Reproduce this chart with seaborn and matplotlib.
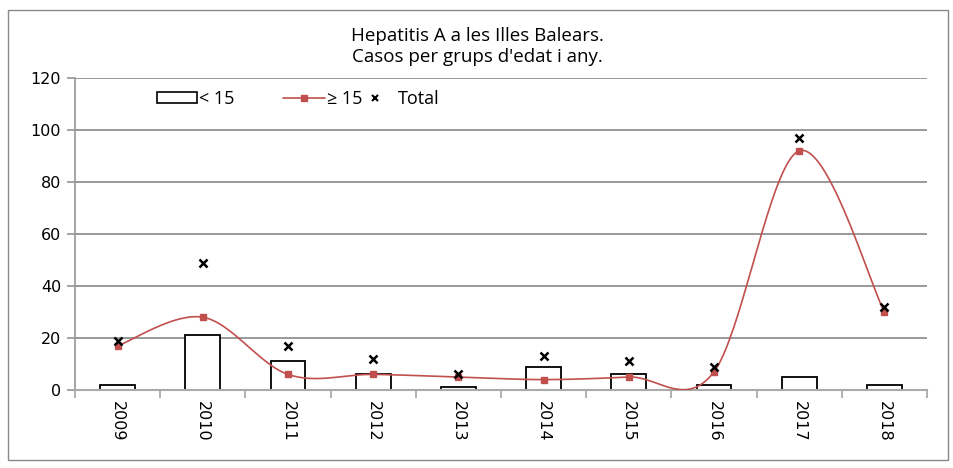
"""
Hepatitis A a les Illes Balears - casos per grups d'edat i any.
"""

import numpy as np
import pandas as pd
import seaborn as sns
import matplotlib.pyplot as plt
from matplotlib.patches import Rectangle
from matplotlib.lines import Line2D

# -------------------------------------------------- DATA -------------------------------------------------- #

years = ['2009', '2010', '2011', '2012', '2013', '2014', '2015', '2016', '2017', '2018']
under_15 = [2, 21, 11, 6, 1, 9, 6, 2, 5, 2]
over_15 = [17, 28, 6, 6, 5, 4, 5, 7, 92, 30]
total = [19, 49, 17, 12, 6, 13, 11, 9, 97, 32]


def smooth_curve(y, n=40):
    # Excel-like smoothed line: Catmull-Rom bezier between points
    y = np.asarray(y, dtype=float)
    x = np.arange(len(y), dtype=float)
    pts = np.column_stack([x, y])
    ext = np.vstack([pts[0], pts, pts[-1]])
    t = np.linspace(0, 1, n)[:, None]
    out = []
    for i in range(len(pts) - 1):
        p0, p1, p2, p3 = ext[i], ext[i + 1], ext[i + 2], ext[i + 3]
        c1 = p1 + (p2 - p0) / 6
        c2 = p2 - (p3 - p1) / 6
        seg = ((1 - t) ** 3) * p1 + 3 * ((1 - t) ** 2) * t * c1 + 3 * (1 - t) * t ** 2 * c2 + t ** 3 * p2
        out.append(seg)
    out = np.vstack(out)
    return out[:, 0], out[:, 1]


# -------------------------------------------------- PLOT -------------------------------------------------- #

sns.set_theme(style="white")
plt.rcParams['font.family'] = ['Open Sans', 'DejaVu Sans']
plt.rcParams['text.color'] = 'black'
plt.rcParams['xtick.labelcolor'] = 'black'
plt.rcParams['ytick.labelcolor'] = 'black'

df = pd.DataFrame({'year': years, 'under_15': under_15})

fig = plt.figure(figsize=(9.54, 4.68), dpi=100)
fig.patches.append(Rectangle((8 / 954, 8 / 468), 940 / 954, 450 / 468, transform=fig.transFigure,
                             fill=False, edgecolor='#888888', linewidth=1))
ax = fig.add_axes([75 / 954, 78 / 468, 852 / 954, 312 / 468])

sns.barplot(data=df, x='year', y='under_15', ax=ax, color='white', edgecolor='black',
            linewidth=1.3, width=0.41, saturation=1)

xs, ys = smooth_curve(over_15)
ax.plot(xs, ys, color='#c0504d', linewidth=1.2, zorder=3)
ax.plot(range(len(years)), over_15, linestyle='none', marker='s', markersize=4.5,
        color='#c0504d', zorder=4)
ax.plot(range(len(years)), total, linestyle='none', marker='x', markersize=6,
        markeredgewidth=1.8, color='black', zorder=5)

ax.set_ylim(0, 120)
ax.set_xlim(-0.5, len(years) - 0.5)
ax.set_yticks(range(0, 121, 20))
ax.yaxis.grid(True, color='#888888', linewidth=1.2)
ax.set_axisbelow(True)
ax.set_xlabel('')
ax.set_ylabel('')

for side in ['top', 'right']:
    ax.spines[side].set_visible(False)
ax.spines['left'].set_color('#999999')
ax.spines['bottom'].set_color('#aaaaaa')
ax.spines['bottom'].set_linewidth(1.5)

ax.tick_params(axis='y', labelsize=11.5, length=6, direction='out', color='#999999', left=True,
               pad=4, labelcolor='black')
ax.set_xticks(np.arange(len(years)))
ax.set_xticklabels(years, rotation=-90, fontsize=11.5, family=['DejaVu Sans'], color='black')
ax.tick_params(axis='x', length=0, pad=8)
# separators between categories
ax.set_xticks(np.arange(-0.5, len(years)), minor=True)
ax.tick_params(axis='x', which='minor', length=6, color='#aaaaaa', width=1.3, bottom=True)
for lbl in ax.get_yticklabels():
    lbl.set_family(['DejaVu Sans'])

fig.text(0.5, 1 - 36 / 468, 'Hepatitis A a les Illes Balears.', ha='center', va='center', fontsize=13.5,
         color='black')
fig.text(0.5, 1 - 57 / 468, "Casos per grups d'edat i any.", ha='center', va='center', fontsize=13.5,
         color='black')

# legend: three separate pieces to match the uneven spacing
leg_y = (390 - 99) / 312
common = dict(loc='center left', frameon=False, fontsize=13, borderpad=0, borderaxespad=0, labelcolor='black')
leg1 = ax.legend([Rectangle((0, 0), 1, 1, facecolor='white', edgecolor='black', linewidth=1.2)], ['< 15'],
                 bbox_to_anchor=((157 - 75) / 852, leg_y), handlelength=2.2, handleheight=0.6,
                 handletextpad=0.15, **common)
ax.add_artist(leg1)
leg2 = ax.legend([Line2D([0], [0], color='#c0504d', linewidth=1.2, marker='s', markersize=4)], ['≥ 15'],
                 bbox_to_anchor=((283 - 75) / 852, leg_y), handlelength=2.3, handletextpad=0.15, **common)
ax.add_artist(leg2)
ax.legend([Line2D([0], [0], color='black', linestyle='none', marker='x', markersize=5, markeredgewidth=1.5)],
          ['Total'], bbox_to_anchor=((364 - 75) / 852, leg_y), handlelength=1.2, handletextpad=0.65, **common)

plt.savefig('out.png', dpi=100)
